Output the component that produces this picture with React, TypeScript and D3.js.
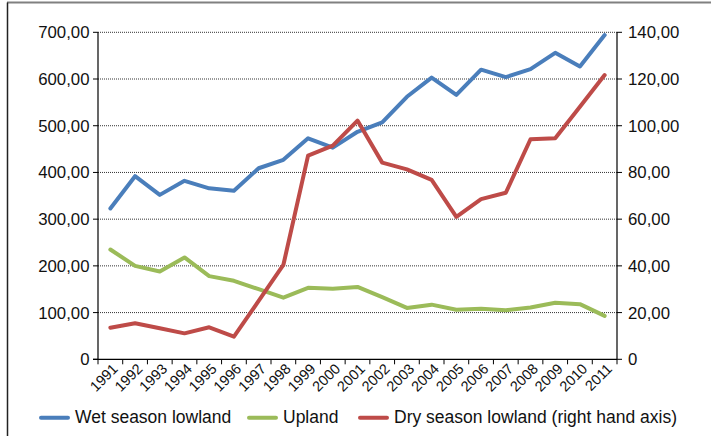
import React from "react";
import * as d3 from "d3";

const years = ["1991","1992","1993","1994","1995","1996","1997","1998","1999","2000","2001","2002","2003","2004","2005","2006","2007","2008","2009","2010","2011"];
const wetLowland = [323,392,352,382,366,361,409,427,473,453,487,507,562,603,566,620,604,621,656,627,694];
const upland = [235,200,188,218,178,168,150,132,153,151,155,133,110,117,106,108,105,111,121,118,93];
const dryLowland = [13.5,15.4,13.3,11.1,13.7,9.7,25,40.4,87.2,91.5,102.2,84.2,81.3,76.8,61.0,68.6,71.3,94.2,94.6,108.1,121.7];
const leftTicks = [0,100,200,300,400,500,600,700];
const rightTicks = [0,20,40,60,80,100,120,140];

const seriesNames = ["Wet season lowland", "Upland", "Dry season lowland (right hand axis)"];
const colors = ["#4A7EBB", "#9BBB59", "#BE4B48"];

const W = 711, H = 436;
const m = { left: 98, right: 617, top: 32.3, bottom: 359.3 };
const font = "'Liberation Sans', Arial, Helvetica, sans-serif";

function fmt(v: number) {
  return v === 0 ? "0" : v.toFixed(2).replace(".", ",");
}

export default function App() {
  const x = d3.scaleBand<string>().domain(years).range([m.left, m.right]);
  const yL = d3.scaleLinear().domain([0, 700]).range([m.bottom, m.top]);
  const yR = d3.scaleLinear().domain([0, 140]).range([m.bottom, m.top]);
  const cx = (d: string) => (x(d) as number) + x.bandwidth() / 2;

  const lineL = d3.line<number>().x((_, i) => cx(years[i])).y((v) => yL(v));
  const lineR = d3.line<number>().x((_, i) => cx(years[i])).y((v) => yR(v));

  const boundaries = years.map((d) => x(d) as number).concat([m.right]);

  const legend = [
    { name: seriesNames[0], color: colors[0], x1: 41, x2: 68, tx: 75 },
    { name: seriesNames[1], color: colors[1], x1: 249, x2: 276, tx: 283 },
    { name: seriesNames[2], color: colors[2], x1: 360, x2: 387, tx: 394 },
  ];

  return (
    <svg width={W} height={H} style={{ position: "absolute", left: 0, top: 0 }} fontFamily={font}>
      <rect x={0} y={0} width={W} height={H} fill="#fff" />
      {/* frame */}
      <line x1={7} x2={W} y1={2.5} y2={2.5} stroke="#808080" strokeWidth={2} />
      <line x1={7.5} x2={7.5} y1={2.5} y2={H} stroke="#222" strokeWidth={1.5} />

      {/* gridlines */}
      {leftTicks.filter((t) => t > 0).map((t) => (
        <line key={t} x1={m.left} x2={m.right} y1={yL(t)} y2={yL(t)} stroke="#333" strokeWidth={1} strokeDasharray="1 1" />
      ))}

      {/* left axis */}
      <line x1={m.left} x2={m.left} y1={m.top} y2={m.bottom} stroke="#000" strokeWidth={1.2} />
      {leftTicks.map((t) => (
        <g key={t}>
          <line x1={m.left - 5} x2={m.left} y1={yL(t)} y2={yL(t)} stroke="#000" strokeWidth={1} />
          <text x={89.5} y={yL(t)} dy="0.36em" textAnchor="end" fontSize={16.8} fill="#111">{fmt(t)}</text>
        </g>
      ))}

      {/* right axis */}
      <line x1={m.right} x2={m.right} y1={m.top} y2={m.bottom} stroke="#000" strokeWidth={1.2} />
      {rightTicks.map((t) => (
        <g key={t}>
          <line x1={m.right} x2={m.right + 5} y1={yR(t)} y2={yR(t)} stroke="#000" strokeWidth={1} />
          <text x={628} y={yR(t)} dy="0.36em" textAnchor="start" fontSize={16.8} fill="#111">{fmt(t)}</text>
        </g>
      ))}

      {/* x axis */}
      <line x1={m.left - 5} x2={m.right} y1={m.bottom} y2={m.bottom} stroke="#000" strokeWidth={1.2} />
      {boundaries.map((b, i) => (
        <line key={i} x1={b} x2={b} y1={m.bottom} y2={m.bottom + 5} stroke="#000" strokeWidth={1} />
      ))}
      {years.map((d) => (
        <text key={d} transform={`translate(${cx(d) + 1},${m.bottom + 3}) rotate(-45)`} dy="0.72em" textAnchor="end" fontSize={14.5} fill="#111">{d}</text>
      ))}

      {/* lines */}
      <path d={lineL(wetLowland) || ""} fill="none" stroke={colors[0]} strokeWidth={4} strokeLinejoin="round" strokeLinecap="round" />
      <path d={lineL(upland) || ""} fill="none" stroke={colors[1]} strokeWidth={4} strokeLinejoin="round" strokeLinecap="round" />
      <path d={lineR(dryLowland) || ""} fill="none" stroke={colors[2]} strokeWidth={4} strokeLinejoin="round" strokeLinecap="round" />

      {/* legend */}
      {legend.map((l) => (
        <g key={l.name}>
          <line x1={l.x1} x2={l.x2} y1={417.7} y2={417.7} stroke={l.color} strokeWidth={4} strokeLinecap="round" />
          <text x={l.tx} y={422.5} fontSize={17.5} fill="#111">{l.name}</text>
        </g>
      ))}
    </svg>
  );
}
